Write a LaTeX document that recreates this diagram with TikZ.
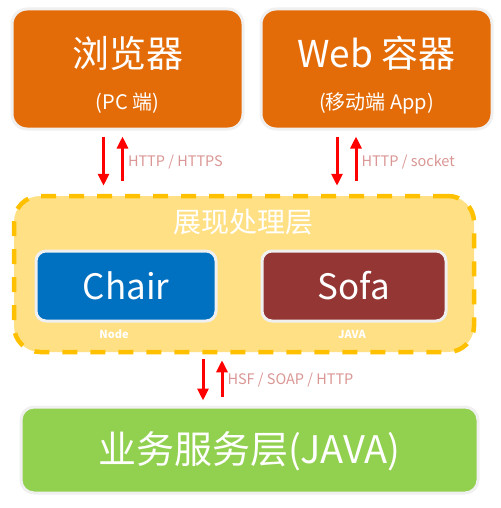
\documentclass[tikz,border=0pt]{standalone}
\usepackage{fontspec}
\setmainfont{Noto Sans CJK SC}
\usetikzlibrary{arrows.meta}
\definecolor{clientorange}{HTML}{E36C09}
\definecolor{layeryellow}{HTML}{FFE084}
\definecolor{dashgold}{HTML}{FFC000}
\definecolor{chairblue}{HTML}{0070C0}
\definecolor{sofared}{HTML}{943634}
\definecolor{servicegreen}{HTML}{92D050}
\definecolor{protopink}{HTML}{D99694}
\begin{document}
\begin{tikzpicture}[x=1pt,y=-1pt]
    \useasboundingbox (0,0) rectangle (500,508);

    \tikzstyle{tier}=[draw=gray!12,line width=3pt,inner sep=0pt,text=white]
    \tikzstyle{client}=[tier,fill=clientorange,rounded corners=15pt,minimum width=231pt,minimum height=120pt]
    \tikzstyle{engine}=[tier,rounded corners=10pt,minimum height=70pt,font=\fontsize{35}{40}\selectfont]
    \tikzstyle{layer}=[draw=dashgold,fill=layeryellow,line width=4.5pt,dash pattern=on 15pt off 13pt,rounded corners=26pt,minimum width=460pt,minimum height=156pt]
    \tikzstyle{service}=[tier,fill=servicegreen,rounded corners=13pt,minimum width=457pt,minimum height=86pt]
    \tikzstyle{big}=[text=white,font=\fontsize{37}{42}\selectfont]
    \tikzstyle{sub}=[text=white,font=\fontsize{20}{24}\selectfont]
    \tikzstyle{tag}=[text=white,font=\bfseries\fontsize{11}{13}\selectfont]
    \tikzstyle{proto}=[text=protopink,font=\fontsize{14.5}{17}\selectfont,inner sep=0pt]

    \node[client]  (pc) at (127.5,69) {};
    \node[big]  (pctitle) at (127.5,53) {浏览器};
    \node[sub]  (pcsub) at (127.5,103) {(PC 端)};
    \node[client]  (web) at (376.5,69) {};
    \node[big]  (webtitle) at (376.5,53) {Web 容器};
    \node[sub]  (websub) at (376.5,103) {(移动端 App)};

    \node[layer]  (show) at (244,274) {};
    \node[text=white,font=\fontsize{28}{33}\selectfont]  (showtitle) at (243,222) {展现处理层};
    \node[engine,fill=chairblue,minimum width=180pt]  (chair) at (126,286) {Chair};
    \node[engine,fill=sofared,minimum width=184pt]  (sofa) at (354,286) {Sofa};
    \node[tag]  (chairtag) at (114,334) {Node};
    \node[tag]  (sofatag) at (352,334) {JAVA};

    \node[service]  (biz) at (249.5,450) {};
    \node[big,font=\fontsize{38}{44}\selectfont]  (biztitle) at (249.5,451) {业务服务层(JAVA)};

    \tikzstyle{fwd} = [draw=red, line width=3pt, -{Triangle[width=11pt,length=12pt]}]

          \draw [fwd,shorten <=6pt,shorten >=8pt] ([xshift=-24pt]pc.south) -- ([xshift=-24pt]pc.south |- show.north);
          \draw [fwd,shorten <=13pt,shorten >=6pt] ([xshift=-5pt]pc.south |- show.north) -- ([xshift=-5pt]pc.south)
                node[proto,midway,anchor=west,xshift=4pt] (pcproto) {HTTP / HTTPS};
          \draw [fwd,shorten <=6pt,shorten >=8pt] ([xshift=-39.5pt]web.south) -- ([xshift=-39.5pt]web.south |- show.north);
          \draw [fwd,shorten <=13pt,shorten >=6pt] ([xshift=-20.5pt]web.south |- show.north) -- ([xshift=-20.5pt]web.south)
                node[proto,midway,anchor=west,xshift=4pt] (webproto) {HTTP / socket};
          \draw [fwd,shorten <=5pt,shorten >=5pt] ([xshift=-46.5pt]biz.north |- show.south) -- ([xshift=-46.5pt]biz.north);
          \draw [fwd,shorten <=9pt,shorten >=6pt] ([xshift=-27.5pt]biz.north) -- ([xshift=-27.5pt]biz.north |- show.south)
                node[proto,midway,anchor=west,xshift=4pt] (bizproto) {HSF / SOAP / HTTP};

  \end{tikzpicture}
\end{document}
